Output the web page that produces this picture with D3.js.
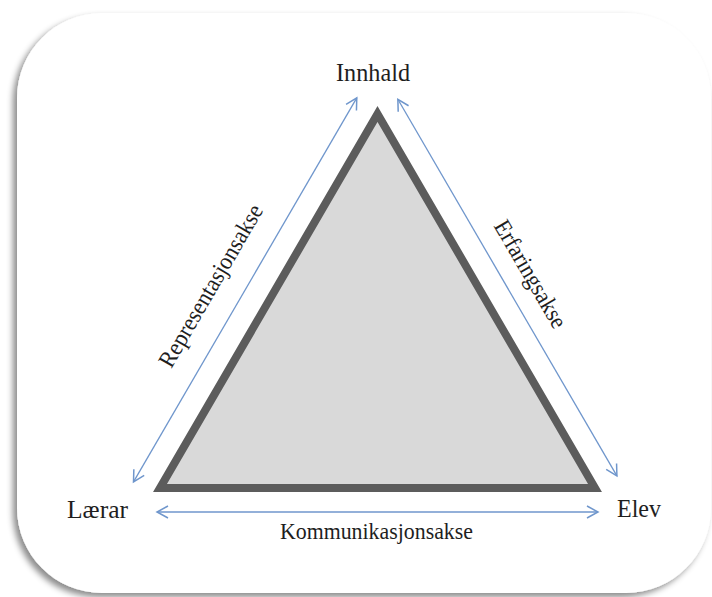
<!DOCTYPE html>
<html>
<head>
<meta charset="utf-8">
<script src="https://cdn.jsdelivr.net/npm/d3@7"></script>
<style>
  body { margin: 0; background: #fff; }
  text { font-family: "Liberation Serif", "Times New Roman", serif; fill: #1e1e1e; }
</style>
</head>
<body>
<div id="chart"></div>
<script>
// corners of the didactic triangle (unit coordinates)
var vertexNames = ["Lærar", "Elev", "Innhald"];
var vertexX = [0, 1, 0.5];
var vertexY = [0, 0, 1];

// axes between the corners
var axisNames = ["Kommunikasjonsakse", "Representasjonsakse", "Erfaringsakse"];
var axisFrom = ["Lærar", "Lærar", "Innhald"];
var axisTo = ["Elev", "Innhald", "Elev"];

var svgWidth = 712;
var svgHeight = 597;

var svg = d3.select("#chart")
  .append("svg")
  .attr("width", svgWidth)
  .attr("height", svgHeight);

var defs = svg.append("defs");

var shadow = defs.append("filter")
  .attr("id", "cardShadow")
  .attr("x", "-10%").attr("y", "-10%")
  .attr("width", "120%").attr("height", "120%");
shadow.append("feDropShadow")
  .attr("dx", -4)
  .attr("dy", 4)
  .attr("stdDeviation", 3)
  .attr("flood-color", "#000")
  .attr("flood-opacity", 0.45);

var arrowColor = "#6f96cc";

defs.append("marker")
  .attr("id", "head")
  .attr("viewBox", "-12 -7 14 14")
  .attr("refX", 0)
  .attr("refY", 0)
  .attr("markerWidth", 14)
  .attr("markerHeight", 14)
  .attr("markerUnits", "userSpaceOnUse")
  .attr("orient", "auto-start-reverse")
  .append("path")
  .attr("d", "M-11,-6L0,0L-11,6")
  .attr("fill", "none")
  .attr("stroke", arrowColor)
  .attr("stroke-width", 1.5);

// card with rounded corners
svg.append("rect")
  .attr("x", 17)
  .attr("y", 13)
  .attr("width", 694)
  .attr("height", 580)
  .attr("rx", 85)
  .attr("fill", "#fff")
  .attr("filter", "url(#cardShadow)");

var x = d3.scaleLinear().domain([0, 1]).range([160, 595]);
var y = d3.scaleLinear().domain([0, 1]).range([488, 114]);

var vertices = vertexNames.map((n, i) => ({ name: n, px: x(vertexX[i]), py: y(vertexY[i]) }));
var byName = {};
vertices.forEach(v => byName[v.name] = v);

// triangle
svg.append("path")
  .datum(vertices)
  .attr("d", d3.line().x(d => d.px).y(d => d.py).curve(d3.curveLinearClosed))
  .attr("fill", "#d9d9d9")
  .attr("stroke", "#5c5c5c")
  .attr("stroke-width", 8)
  .attr("stroke-linejoin", "miter");

// layout per axis: offset from edge, extension at start/end, label offset, label shift
var axisLayout = {
  "Kommunikasjonsakse": { off: 24, e0: 3, e1: 3, lab: -46, shift: -1 },
  "Representasjonsakse": { off: 26, e0: 8, e1: 3.5, lab: 50, shift: -16 },
  "Erfaringsakse": { off: 25, e0: 2.5, e1: 0.6, lab: 44, shift: -1 }
};

var axes = axisNames.map((n, i) => {
  var a = byName[axisFrom[i]], b = byName[axisTo[i]];
  var dx = b.px - a.px, dy = b.py - a.py;
  var len = Math.sqrt(dx * dx + dy * dy);
  var ux = dx / len, uy = dy / len;
  // outward normal (away from triangle centre)
  var nx = uy, ny = -ux;
  if (n === "Kommunikasjonsakse") { nx = -uy; ny = ux; }
  var L = axisLayout[n];
  var mx = (a.px + b.px) / 2, my = (a.py + b.py) / 2;
  var ang = Math.atan2(dy, dx) * 180 / Math.PI;
  if (ang > 90) ang -= 180;
  if (ang < -90) ang += 180;
  return {
    name: n,
    x1: a.px - ux * L.e0 + nx * L.off, y1: a.py - uy * L.e0 + ny * L.off,
    x2: b.px + ux * L.e1 + nx * L.off, y2: b.py + uy * L.e1 + ny * L.off,
    lx: mx + ux * L.shift + nx * L.lab, ly: my + uy * L.shift + ny * L.lab,
    ang: ang
  };
});
// bottom label sits below the arrow
axes[0].lx = axes[0].lx; axes[0].ly = byName["Lærar"].py + 51;

svg.selectAll(".axis-arrow")
  .data(axes)
  .enter()
  .append("line")
  .attr("class", "axis-arrow")
  .attr("x1", d => d.x1).attr("y1", d => d.y1)
  .attr("x2", d => d.x2).attr("y2", d => d.y2)
  .attr("stroke", arrowColor)
  .attr("stroke-width", 1.3)
  .attr("marker-start", "url(#head)")
  .attr("marker-end", "url(#head)");

var axisTextLen = { "Kommunikasjonsakse": 193, "Representasjonsakse": 184, "Erfaringsakse": 121 };

svg.selectAll(".axis-label")
  .data(axes)
  .enter()
  .append("text")
  .attr("class", "axis-label")
  .attr("transform", d => `translate(${d.lx},${d.ly}) rotate(${d.ang})`)
  .attr("text-anchor", "middle")
  .attr("font-size", "24px")
  .attr("textLength", d => axisTextLen[d.name])
  .attr("lengthAdjust", "spacingAndGlyphs")
  .text(d => d.name);

// corner labels
var labelLayout = {
  "Lærar": { dx: -32, dy: 30, anchor: "end", len: 61 },
  "Elev": { dx: 22, dy: 29, anchor: "start", len: 44 },
  "Innhald": { dx: -4.5, dy: -33, anchor: "middle", len: 74 }
};

svg.selectAll(".corner-label")
  .data(vertices)
  .enter()
  .append("text")
  .attr("class", "corner-label")
  .attr("x", d => d.px + labelLayout[d.name].dx)
  .attr("y", d => d.py + labelLayout[d.name].dy)
  .attr("text-anchor", d => labelLayout[d.name].anchor)
  .attr("font-size", "25px")
  .attr("textLength", d => labelLayout[d.name].len)
  .attr("lengthAdjust", "spacingAndGlyphs")
  .text(d => d.name);
</script>
</body>
</html>
